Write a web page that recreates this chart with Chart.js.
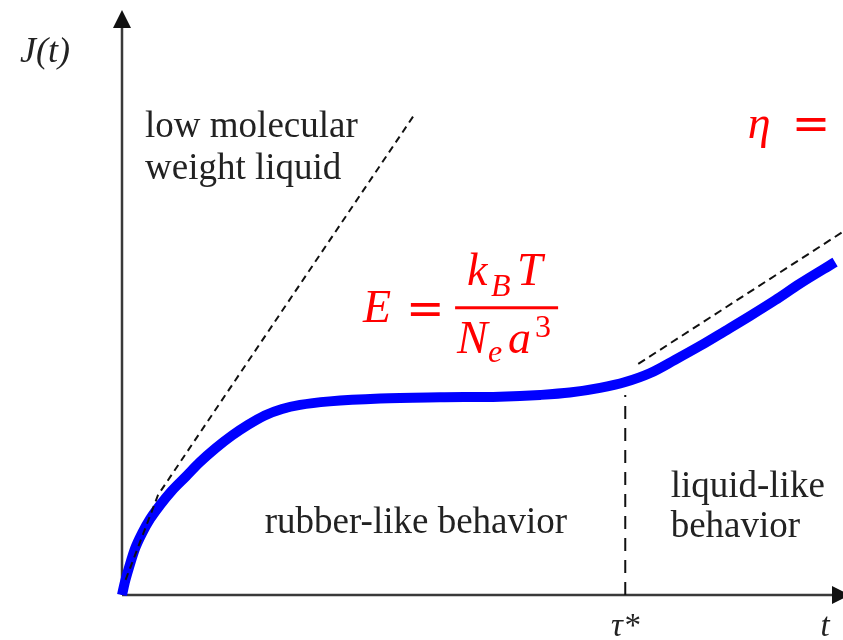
<!DOCTYPE html>
<html>
<head>
<meta charset="utf-8">
<script src="https://cdn.jsdelivr.net/npm/chart.js@4.4.0/dist/chart.umd.min.js"></script>
<style>
  html, body { margin: 0; padding: 0; background: #fff; }
  #wrap { width: 843px; height: 640px; position: relative; }
</style>
</head>
<body>
<div id="wrap"><canvas id="creep"></canvas></div>
<script>
// creep compliance J(t) of an entangled polymer (schematic units)
const tValues = [0, 0.04, 0.10, 0.18, 0.28, 0.39, 0.53, 0.69, 0.89, 1.08, 1.30, 1.53, 1.75, 1.98, 2.22, 2.47,
  2.88, 3.58, 4.41, 5.24, 5.80, 6.21, 6.63, 6.98, 7.32, 7.67, 8.02, 8.36, 8.71, 9.06, 9.40, 9.89];
const jValues = [0, 0.22, 0.48, 0.79, 1.06, 1.30, 1.54, 1.78, 2.03, 2.27, 2.51, 2.73, 2.91, 3.07, 3.18, 3.25,
  3.31, 3.36, 3.38, 3.39, 3.42, 3.46, 3.54, 3.64, 3.79, 4.02, 4.26, 4.51, 4.77, 5.04, 5.32, 5.69];

// low molecular weight liquid: compliance grows straight away
const liquidT = [0.05, 0.50, 4.06];
const liquidJ = [0.26, 1.71, 8.22];

// terminal flow asymptote
const flowT = [7.16, 10.0];
const flowJ = [3.95, 6.21];

// crossover time tau*
const tauStar = 6.98;
const tauTop = 3.42;

const tickLabels = [
  { t: tauStar, text: 'τ*' },
  { t: 9.75, text: 't' }
];

const regionLabels = [
  { t: 0.32, j: 7.83, text: 'low molecular' },
  { t: 0.32, j: 7.11, text: 'weight liquid' },
  { t: 1.98, j: 1.06, text: 'rubber-like behavior' },
  { t: 7.61, j: 1.68, text: 'liquid-like' },
  { t: 7.61, j: 0.99, text: 'behavior' }
];

const toPoints = (xs, ys) => xs.map((x, i) => ({ x: x, y: ys[i] }));

const serif = '"Liberation Serif", "Times New Roman", serif';
const red = '#ff0000';

function txt(ctx, str, x, y, font, color, align) {
  ctx.font = font;
  ctx.fillStyle = color;
  ctx.textAlign = align || 'left';
  ctx.textBaseline = 'alphabetic';
  ctx.fillText(str, x, y);
}

const sketch = {
  id: 'sketch',
  beforeDatasetsDraw(chart) {
    const ctx = chart.ctx;
    const a = chart.chartArea;
    ctx.save();
    ctx.strokeStyle = '#3a3a3a';
    ctx.fillStyle = '#111';
    ctx.lineWidth = 2.5;
    // axes
    ctx.beginPath();
    ctx.moveTo(a.left, a.bottom);
    ctx.lineTo(a.left, a.top + 16);
    ctx.moveTo(a.left, a.bottom);
    ctx.lineTo(a.right - 10, a.bottom);
    ctx.stroke();
    // arrow heads
    ctx.beginPath();
    ctx.moveTo(a.left, a.top);
    ctx.lineTo(a.left - 9, a.top + 18);
    ctx.lineTo(a.left + 9, a.top + 18);
    ctx.closePath();
    ctx.fill();
    ctx.beginPath();
    ctx.moveTo(a.right + 7, a.bottom);
    ctx.lineTo(a.right - 11, a.bottom - 9);
    ctx.lineTo(a.right - 11, a.bottom + 9);
    ctx.closePath();
    ctx.fill();
    ctx.restore();
  },
  afterDatasetsDraw(chart) {
    const ctx = chart.ctx;
    const xs = chart.scales.x;
    const ys = chart.scales.y;
    const a = chart.chartArea;
    ctx.save();

    // axis titles and ticks
    txt(ctx, 'J(t)', a.left - 102, ys.getPixelForValue(9.11), 'italic 36px ' + serif, '#222');
    tickLabels.forEach(l => {
      txt(ctx, l.text, xs.getPixelForValue(l.t), a.bottom + 41, 'italic 33px ' + serif, '#222', 'center');
    });

    regionLabels.forEach(l => {
      txt(ctx, l.text, xs.getPixelForValue(l.t), ys.getPixelForValue(l.j), '37px ' + serif, '#222');
    });

    // plateau modulus E = kB T / (Ne a^3)
    const bx = xs.getPixelForValue(4.62);
    const by = ys.getPixelForValue(4.91);
    const big = 'italic 46px ' + serif;
    const small = 'italic 32px ' + serif;
    const eq = '46px "DejaVu Sans", sans-serif';
    txt(ctx, 'E', bx - 92, by + 14, big, red);
    txt(ctx, '=', bx - 49, by + 16, eq, red);
    ctx.fillStyle = red;
    ctx.fillRect(bx, by - 1.5, 103, 3);
    txt(ctx, 'k', bx + 12, by - 23, big, red);
    txt(ctx, 'B', bx + 36, by - 12, small, red);
    txt(ctx, 'T', bx + 62, by - 23, big, red);
    txt(ctx, 'N', bx + 2, by + 45, big, red);
    txt(ctx, 'e', bx + 33, by + 54, small, red);
    txt(ctx, 'a', bx + 53, by + 45, big, red);
    txt(ctx, '3', bx + 80, by + 29, '32px ' + serif, red);

    // viscosity, cut at the right edge
    const ex = xs.getPixelForValue(8.68);
    const ey = ys.getPixelForValue(7.81);
    txt(ctx, 'η', ex, ey, big, red);
    txt(ctx, '=', ex + 44, ey + 1, eq, red);

    ctx.restore();
  }
};

new Chart(document.getElementById('creep'), {
  type: 'scatter',
  data: {
    datasets: [
      {
        label: 'liquid',
        data: toPoints(liquidT, liquidJ),
        showLine: true,
        borderColor: '#111',
        borderWidth: 2,
        borderDash: [7, 5],
        pointRadius: 0,
        clip: false
      },
      {
        label: 'flow',
        data: toPoints(flowT, flowJ),
        showLine: true,
        borderColor: '#111',
        borderWidth: 2,
        borderDash: [8, 5],
        pointRadius: 0,
        clip: false
      },
      {
        label: 'tau',
        data: toPoints([tauStar, tauStar], [0, tauTop]),
        showLine: true,
        borderColor: '#111',
        borderWidth: 2,
        borderDash: [13, 9],
        pointRadius: 0,
        clip: false
      },
      {
        label: 'J(t)',
        data: toPoints(tValues, jValues),
        showLine: true,
        borderColor: '#0000ff',
        borderWidth: 10,
        borderCapStyle: 'butt',
        borderJoinStyle: 'round',
        cubicInterpolationMode: 'monotone',
        pointRadius: 0,
        clip: false
      }
    ]
  },
  options: {
    responsive: true,
    maintainAspectRatio: false,
    animation: false,
    layout: { padding: { left: 122, right: 0, top: 10, bottom: 45 } },
    scales: {
      x: { type: 'linear', min: 0, max: 10, display: false },
      y: { type: 'linear', min: 0, max: 10, display: false }
    },
    plugins: {
      legend: { display: false },
      tooltip: { enabled: false }
    }
  },
  plugins: [sketch]
});
</script>
</body>
</html>
